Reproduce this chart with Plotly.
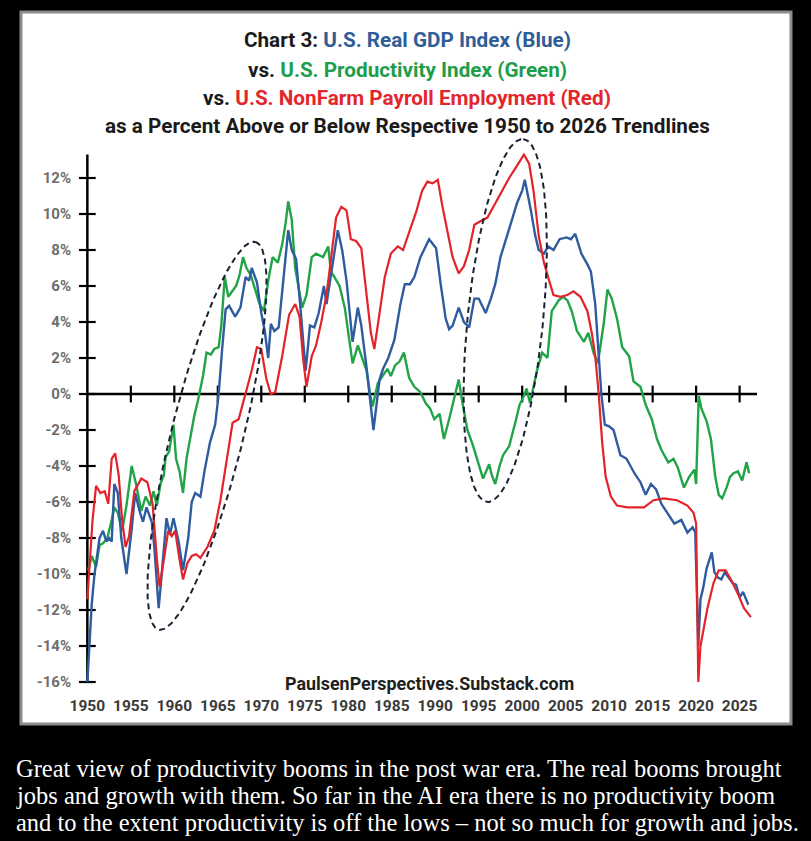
import numpy as np
import plotly.graph_objects as go

# ---- data (percent above/below 1950-2026 trendline) ----
gdp_years = [1950.0, 1950.3, 1950.5, 1950.8, 1951.1, 1951.4, 1951.8, 1952.2, 1952.5, 1952.8,
             1953.1, 1953.5, 1953.9, 1954.5, 1955.1, 1955.5, 1956.0, 1956.4, 1956.8, 1957.4,
             1957.7, 1958.2, 1958.5, 1959.1, 1959.5, 1959.9, 1960.5, 1961.0, 1961.6, 1962.0,
             1962.4, 1963.0, 1963.5, 1964.1, 1964.7, 1965.1, 1965.5, 1965.9, 1966.3, 1967.0,
             1967.6, 1968.2, 1968.6, 1968.9, 1969.5, 1970.0, 1970.4, 1970.8, 1971.1, 1971.5,
             1972.0, 1972.6, 1973.1, 1973.5, 1974.0, 1974.5, 1974.8, 1975.1, 1975.6, 1976.1,
             1976.6, 1977.2, 1977.5, 1978.0, 1978.8, 1979.3, 1979.8, 1980.5, 1981.1, 1981.5,
             1982.1, 1982.9, 1983.6, 1984.0, 1984.6, 1985.3, 1986.0, 1986.5, 1987.1, 1987.6,
             1988.3, 1989.3, 1990.1, 1990.6, 1991.2, 1991.6, 1992.0, 1992.7, 1993.3, 1993.9,
             1994.5, 1995.0, 1995.8, 1996.4, 1996.9, 1997.5, 1998.1, 1998.9, 1999.4, 2000.0,
             2000.3, 2000.7, 2001.0, 2001.5, 2001.9, 2002.5, 2003.0, 2003.6, 2004.3, 2005.1,
             2005.6, 2006.1, 2006.8, 2007.5, 2007.9, 2008.4, 2008.8, 2009.1, 2009.5, 2010.0,
             2010.5, 2010.9, 2011.3, 2012.0, 2012.9, 2013.6, 2014.2, 2014.8, 2015.4, 2016.0,
             2016.7, 2017.5, 2018.3, 2019.0, 2019.6, 2019.9, 2020.25, 2020.5, 2020.8, 2021.2,
             2021.8, 2022.1, 2022.5, 2022.9, 2023.3, 2023.6, 2024.2, 2024.6, 2025.0, 2025.4,
             2026.0]
gdp_values = [-16.0, -13.0, -11.7, -10.1, -9.0, -8.0, -7.6, -8.2, -8.0, -8.2,
              -5.0, -5.5, -8.0, -10.0, -7.5, -5.5, -6.5, -7.1, -6.3, -7.1,
              -8.5, -11.9, -10.3, -6.9, -7.8, -6.9, -8.2, -9.8, -8.0, -6.0,
              -5.5, -5.7, -4.2, -2.7, -1.7, 0.0, 2.5, 4.7, 4.9, 4.3,
              4.8, 6.5, 6.3, 7.0, 6.2, 4.5, 3.5, 2.0, 3.9, 3.5,
              3.7, 6.9, 9.1, 8.0, 7.5, 4.8, 3.0, 1.3, 3.8, 3.7,
              4.5, 6.0, 5.0, 6.5, 9.1, 8.0, 6.3, 2.9, 4.8, 3.8,
              1.5, -2.0, 0.8, 1.4, 2.0, 3.0, 5.0, 6.1, 6.1, 6.5,
              7.6, 8.6, 8.1, 6.2, 4.2, 3.6, 3.8, 4.8, 4.0, 3.7,
              5.3, 5.3, 4.5, 5.3, 6.1, 7.6, 8.5, 9.8, 10.6, 11.3,
              11.9, 11.0, 10.2, 8.8, 8.0, 7.8, 8.2, 8.0, 8.6, 8.7,
              8.6, 8.9, 7.8, 7.2, 6.8, 5.0, 2.3, 0.0, -1.7, -1.8,
              -2.0, -2.7, -3.4, -3.6, -4.4, -4.9, -5.6, -5.0, -5.3, -6.1,
              -6.6, -7.2, -7.0, -7.7, -7.4, -7.7, -14.0, -11.4, -10.8, -9.7,
              -8.8, -9.9, -10.2, -10.3, -9.9, -10.1, -10.5, -10.6, -11.3, -11.0,
              -11.7]

prod_years = [1950.1, 1950.5, 1951.0, 1951.4, 1951.8, 1952.3, 1952.8, 1953.1, 1953.5, 1954.0,
              1954.5, 1955.1, 1955.6, 1956.2, 1956.7, 1957.2, 1957.6, 1958.0, 1958.4, 1958.8,
              1959.0, 1959.4, 1959.9, 1960.2, 1960.6, 1961.0, 1961.4, 1961.8, 1962.3, 1962.7,
              1963.0, 1963.3, 1963.7, 1964.2, 1964.6, 1965.1, 1965.4, 1965.8, 1966.2, 1966.6,
              1967.1, 1967.5, 1967.9, 1968.3, 1968.8, 1969.3, 1969.8, 1970.3, 1970.8, 1971.3,
              1971.9, 1972.4, 1972.8, 1973.1, 1973.5, 1973.9, 1974.3, 1974.7, 1975.2, 1975.8,
              1976.3, 1977.1, 1977.7, 1978.0, 1978.4, 1979.0, 1979.6, 1980.0, 1980.5, 1981.1,
              1981.5, 1982.1, 1982.5, 1982.8, 1983.4, 1983.9, 1984.5, 1984.9, 1985.4, 1985.9,
              1986.4, 1987.0, 1987.6, 1988.3, 1988.9, 1989.4, 1989.9, 1990.5, 1991.0, 1991.6,
              1992.2, 1992.7, 1993.1, 1993.7, 1994.3, 1994.9, 1995.5, 1996.2, 1996.5, 1996.9,
              1997.4, 1997.8, 1998.5, 1999.2, 1999.7, 2000.2, 2000.5, 2000.9, 2001.3, 2001.7,
              2002.3, 2002.9, 2003.4, 2004.2, 2004.7, 2005.2, 2005.7, 2006.3, 2007.1, 2007.6,
              2008.2, 2008.7, 2009.4, 2009.8, 2010.3, 2010.9, 2011.5, 2012.3, 2012.8, 2013.6,
              2014.2, 2014.9, 2015.5, 2016.0, 2016.8, 2017.4, 2017.9, 2018.6, 2019.2, 2019.8,
              2020.0, 2020.3, 2020.6, 2021.2, 2021.7, 2022.2, 2022.6, 2023.0, 2023.5, 2023.9,
              2024.3, 2024.8, 2025.3, 2025.8, 2026.1]
prod_values = [-9.8, -9.0, -9.6, -8.4, -8.3, -8.0, -7.0, -6.3, -6.6, -7.6,
               -6.2, -4.0, -5.0, -6.5, -5.7, -6.2, -5.4, -6.2, -5.0, -4.5,
               -3.5, -3.2, -1.7, -3.6, -4.3, -5.5, -3.6, -2.5, -1.2, -0.4,
               0.4, 1.0, 2.3, 2.2, 2.5, 2.6, 3.8, 6.5, 5.4, 5.7,
               6.0, 6.6, 7.6, 7.0, 6.6, 5.8, 5.0, 4.6, 6.3, 7.6,
               7.3, 8.3, 9.5, 10.7, 9.7, 7.0, 6.0, 4.8, 5.5, 7.6,
               7.8, 7.6, 8.2, 6.8, 6.5, 6.0, 4.8, 3.5, 1.7, 2.7,
               2.1, 1.3, 0.0, -0.7, 0.6, 1.0, 1.4, 1.0, 1.6, 1.8,
               2.3, 0.9, 0.4, 0.1, -0.5, -0.8, -1.4, -1.1, -2.5, -1.4,
               -0.2, 0.8, -0.4, -2.0, -2.8, -3.8, -4.7, -3.9, -4.5, -5.0,
               -4.0, -3.4, -2.9, -1.6, -0.6, -0.1, 0.3, -0.5, 0.4, 1.3,
               2.3, 2.0, 4.6, 5.2, 5.4, 5.2, 4.6, 3.5, 2.9, 3.4,
               2.3, 1.7, 4.0, 5.8, 5.3, 4.2, 2.6, 2.1, 0.7, 0.4,
               -0.6, -1.4, -2.5, -3.1, -3.8, -3.6, -4.1, -5.2, -4.6, -4.2,
               -5.0, -0.1, -0.8, -1.5, -2.5, -4.6, -5.6, -5.8, -5.2, -4.6,
               -4.4, -4.3, -4.8, -3.8, -4.4]

jobs_years = [1950.0, 1950.3, 1950.6, 1951.0, 1951.5, 1952.0, 1952.4, 1952.8, 1953.2, 1953.6,
              1954.0, 1954.4, 1954.8, 1955.4, 1956.2, 1956.9, 1957.5, 1958.0, 1958.3, 1958.8,
              1959.3, 1959.7, 1960.1, 1960.6, 1961.0, 1961.5, 1962.0, 1962.5, 1963.0, 1963.8,
              1964.6, 1965.3, 1966.1, 1966.7, 1967.4, 1968.2, 1968.9, 1969.5, 1970.0, 1970.6,
              1971.1, 1971.6, 1972.4, 1973.2, 1973.9, 1974.4, 1974.8, 1975.2, 1975.8, 1976.3,
              1976.9, 1977.5, 1978.1, 1978.6, 1979.2, 1979.8, 1980.3, 1980.9, 1981.5, 1982.1,
              1982.6, 1983.0, 1983.6, 1984.2, 1984.9, 1985.7, 1986.3, 1987.0, 1987.8, 1988.5,
              1989.1, 1989.7, 1990.3, 1990.8, 1991.4, 1992.0, 1992.7, 1993.3, 1993.9, 1994.5,
              1995.2, 1996.0, 1996.8, 1997.7, 1998.5, 1999.3, 2000.2, 2000.8, 2001.3, 2001.9,
              2002.5, 2003.1, 2003.6, 2004.4, 2005.2, 2005.9, 2006.7, 2007.5, 2008.0, 2008.4,
              2008.8, 2009.2, 2009.6, 2010.2, 2010.9, 2012.1, 2014.0, 2015.1, 2016.3, 2017.8,
              2019.0, 2019.7, 2020.0, 2020.25, 2020.5, 2021.3, 2022.0, 2022.6, 2023.4, 2024.1,
              2024.9, 2025.5, 2026.3]
jobs_values = [-11.4, -9.0, -7.0, -5.1, -5.5, -5.4, -6.1, -3.6, -3.3, -4.5,
               -7.0, -8.5, -7.9, -5.4, -4.7, -4.9, -6.1, -9.2, -10.7, -9.2,
               -7.6, -7.9, -7.6, -9.2, -10.3, -9.4, -9.0, -8.9, -9.1, -8.5,
               -7.6, -5.9, -3.3, -1.6, -1.4, 0.0, 1.3, 2.6, 2.5, 0.8,
               0.0, 0.1, 2.1, 4.4, 5.0, 4.3, 2.0, 0.4, 2.1, 2.7,
               4.0, 5.5, 7.8, 9.8, 10.4, 10.2, 8.6, 8.5, 8.1, 5.5,
               3.4, 2.5, 4.6, 6.5, 7.8, 8.2, 8.0, 9.0, 10.1, 11.3,
               11.8, 11.7, 11.9, 10.5, 9.0, 7.6, 6.7, 7.1, 8.0, 9.4,
               9.6, 9.8, 10.5, 11.3, 12.0, 12.6, 13.3, 12.8, 11.3, 8.8,
               7.3, 6.3, 5.5, 5.4, 5.5, 5.7, 5.4, 4.6, 3.4, 2.1,
               0.0, -2.7, -4.6, -5.7, -6.2, -6.3, -6.3, -5.9, -5.8, -5.9,
               -6.2, -6.6, -7.2, -16.0, -14.0, -11.9, -10.5, -9.8, -9.8, -10.4,
               -11.2, -11.9, -12.4]

y_ticks = list(range(-16, 13, 2))
x_ticks = list(range(1950, 2026, 5))

# dashed ellipses: centre, major half-axis vector, minor half-axis vector (data units)
ellipses = [
    ((1963.76, -2.32), (5.55, 10.77), (4.01, -0.48)),
    ((1998.05, 4.08), (2.07, 10.08), (4.32, -0.21)),
]

BLUE = "#2E5C9E"
GREEN = "#21A348"
RED = "#E3232A"

# pixel frame of the plot area inside the 811x841 page
W, H = 811, 841
L, R, T, B = 83, 757, 133, 682


def px_x(px):
    return (px - L) / (R - L)


def px_y(py):
    return (B - py) / (B - T)


fig = go.Figure()

# cross tick marks on both axes
fig.add_trace(go.Scatter(
    x=[1950] * len(y_ticks), y=y_ticks, mode="markers", cliponaxis=False,
    marker=dict(symbol="line-ew", size=12, line=dict(width=2.2, color="black")),
    hoverinfo="skip"))
fig.add_trace(go.Scatter(
    x=x_ticks[1:], y=[0] * (len(x_ticks) - 1), mode="markers", cliponaxis=False,
    marker=dict(symbol="line-ns", size=12, line=dict(width=2.2, color="black")),
    hoverinfo="skip"))

fig.add_trace(go.Scatter(x=prod_years, y=prod_values, mode="lines",
                         line=dict(color=GREEN, width=2.4), name="Productivity"))
fig.add_trace(go.Scatter(x=gdp_years, y=gdp_values, mode="lines",
                         line=dict(color=BLUE, width=2.4), name="Real GDP"))
fig.add_trace(go.Scatter(x=jobs_years, y=jobs_values, mode="lines",
                         line=dict(color=RED, width=2.2), name="Payrolls"))

t = np.linspace(0, 2 * np.pi, 200)
for (cx, cy), (ux, uy), (vx, vy) in ellipses:
    fig.add_trace(go.Scatter(
        x=cx + ux * np.cos(t) + vx * np.sin(t),
        y=cy + uy * np.cos(t) + vy * np.sin(t),
        mode="lines", line=dict(color="#1b2233", width=2, dash="6px,4px"),
        hoverinfo="skip"))

shapes = [
    # white chart box with grey border
    dict(type="rect", xref="paper", yref="paper", layer="below",
         x0=px_x(21), x1=px_x(791), y0=px_y(724), y1=px_y(12),
         fillcolor="white", line=dict(color="#8c8c8c", width=3)),
    # vertical axis and zero line
    dict(type="line", xref="x", yref="y", layer="below",
         x0=1950, x1=1950, y0=-16, y1=13.3, line=dict(color="black", width=2.5)),
    dict(type="line", xref="x", yref="y", layer="below",
         x0=1950, x1=2027, y0=0, y1=0, line=dict(color="black", width=2.5)),
]

title_font = dict(family="Roboto", size=20.7, color="#1a1a1a")
title_lines = [
    ("<b>Chart 3: <span style='color:#2F5E97'>U.S. Real GDP Index (Blue)</span></b>", 40),
    ("<b>vs. <span style='color:#1E9E4A'>U.S. Productivity Index (Green)</span></b>", 70),
    ("<b>vs. <span style='color:#E3262B'>U.S. NonFarm Payroll Employment (Red)</span></b>", 98),
    ("<b>as a Percent Above or Below Respective 1950 to 2026 Trendlines</b>", 126),
]
annotations = []
for text, py in title_lines:
    annotations.append(dict(text=text, x=px_x(407), y=px_y(py), xref="paper", yref="paper",
                            xanchor="center", yanchor="middle", showarrow=False, font=title_font))

annotations.append(dict(text="<b>PaulsenPerspectives.Substack.com</b>", x=px_x(429), y=px_y(683),
                        xref="paper", yref="paper", xanchor="center", yanchor="middle",
                        showarrow=False, font=dict(family="Roboto", size=17.9, color="#1f1f1f")))

caption = [
    "Great view of productivity booms in the post war era. The real booms brought",
    "jobs and growth with them. So far in the AI era there is no productivity boom",
    "and to the extent productivity is off the lows \u2013 not so much for growth and jobs.",
]
for line, py in zip(caption, [768, 795, 822]):
    annotations.append(dict(text=line, x=px_x(14), y=px_y(py), xref="paper", yref="paper",
                            xanchor="left", yanchor="middle", showarrow=False,
                            font=dict(family="Liberation Serif", size=24.5, color="white")))

fig.update_layout(
    width=W, height=H,
    margin=dict(l=L, r=W - R, t=T, b=H - B, pad=0),
    paper_bgcolor="black", plot_bgcolor="white",
    showlegend=False,
    shapes=shapes,
    annotations=annotations,
    xaxis=dict(range=[1949.5, 2027], showgrid=False, zeroline=False, showline=False,
               tickvals=x_ticks, ticktext=[str(v) for v in x_ticks], ticks="",
               ticklabelstandoff=12,
               tickfont=dict(family="Roboto", size=15.5, color="#3a3a3a", weight=700)),
    yaxis=dict(range=[-16, 14.5], showgrid=False, zeroline=False, showline=False,
               tickvals=y_ticks, ticktext=[f"{v}%" for v in y_ticks], ticks="",
               ticklabelstandoff=11,
               tickfont=dict(family="Roboto", size=15, color="#6e6e6e", weight=700)),
)

# drop the browser's default page margin so the figure sits at the window corner
fig.write_html("out.html",
               config={"displayModeBar": False},
               post_script="document.body.style.margin='0';document.body.style.background='black';")
